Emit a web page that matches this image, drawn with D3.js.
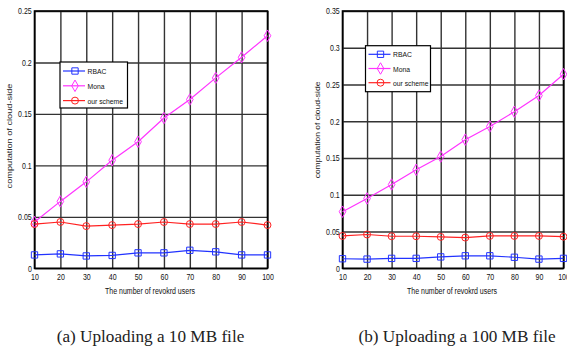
<!DOCTYPE html>
<html>
<head>
<meta charset="utf-8">
<script src="https://cdn.jsdelivr.net/npm/d3@7"></script>
<style>
  body { margin: 0; background: #fff; }
  svg { display: block; }
  .tick text { font-family: "Liberation Sans", Arial, sans-serif; font-size: 9px; fill: #111; }
</style>
</head>
<body>
<svg id="chart" width="567" height="347"></svg>
<script>
// x categories - number of revoked users
const users = [10, 20, 30, 40, 50, 60, 70, 80, 90, 100];

// (a) 10 MB file
const rbacA   = [0.013, 0.014, 0.012, 0.0125, 0.015, 0.015, 0.0175, 0.016, 0.013, 0.013];
const monaA   = [0.045, 0.065, 0.084, 0.105, 0.123, 0.146, 0.164, 0.185, 0.205, 0.226];
const oursA   = [0.043, 0.045, 0.041, 0.042, 0.043, 0.045, 0.043, 0.043, 0.045, 0.042];
const yTicksA = [0, 0.05, 0.1, 0.15, 0.2, 0.25];

// (b) 100 MB file
const rbacB   = [0.013, 0.0125, 0.0135, 0.0135, 0.0155, 0.017, 0.017, 0.015, 0.0125, 0.0135];
const monaB   = [0.077, 0.095, 0.114, 0.134, 0.152, 0.175, 0.193, 0.213, 0.235, 0.264];
const oursB   = [0.044, 0.046, 0.0436, 0.0436, 0.0427, 0.0418, 0.044, 0.044, 0.044, 0.043];
const yTicksB = [0, 0.05, 0.1, 0.15, 0.2, 0.25, 0.3, 0.35];

const seriesNames = ["RBAC", "Mona", "our scheme"];
const captions = ["(a) Uploading a 10 MB file", "(b) Uploading a 100 MB file"];

const colors = { "RBAC": "#2233ff", "Mona": "#ff33ff", "our scheme": "#ff2222" };
const shapes = { "RBAC": d3.symbolSquare, "Mona": d3.symbolDiamond, "our scheme": d3.symbolCircle };
const squeeze = "scale(0.78,1)";  // the source picture is squashed sideways

const svg = d3.select("#chart");

function marker(g, name, x, y) {
  g.append("path")
    .attr("d", d3.symbol().type(shapes[name]).size(name === "RBAC" ? 40 : 38)())
    .attr("transform", `translate(${x},${y})`)
    .attr("fill", "none")
    .attr("stroke", colors[name])
    .attr("stroke-width", 1);
}

function panel(opt) {
  const x = d3.scaleLinear().domain([10, 100]).range([opt.left, opt.right]);
  const y = d3.scaleLinear().domain([0, opt.ymax]).range([268.3, 11]);
  const g = svg.append("g");

  // grid
  g.append("g")
    .attr("transform", `translate(0,${y(0)})`)
    .call(d3.axisBottom(x).tickValues(users).tickSize(-(y(0) - y(opt.ymax))).tickFormat(""))
    .call(a => a.select(".domain").remove())
    .call(a => a.selectAll("line").attr("stroke", "#333").attr("stroke-width", 1.4));
  g.append("g")
    .attr("transform", `translate(${x(10)},0)`)
    .call(d3.axisLeft(y).tickValues(opt.yTicks).tickSize(-(x(100) - x(10))).tickFormat(""))
    .call(a => a.select(".domain").remove())
    .call(a => a.selectAll("line").attr("stroke", "#333").attr("stroke-width", 1.4));

  // frame
  g.append("rect")
    .attr("x", x(10)).attr("y", y(opt.ymax))
    .attr("width", x(100) - x(10)).attr("height", y(0) - y(opt.ymax))
    .attr("fill", "none").attr("stroke", "#000").attr("stroke-width", 1.6);

  // tick labels
  g.append("g")
    .attr("transform", `translate(0,${y(0)})`)
    .call(d3.axisBottom(x).tickValues(users).tickSize(0).tickPadding(5.5))
    .call(a => a.select(".domain").remove())
    .call(a => a.selectAll("text").attr("transform", squeeze));
  g.append("g")
    .attr("transform", `translate(${x(10)},0)`)
    .call(d3.axisLeft(y).tickValues(opt.yTicks).tickSize(0).tickPadding(3.5).tickFormat(d => d3.format("")(+d.toFixed(2))))
    .call(a => a.select(".domain").remove())
    .call(a => a.selectAll("text").attr("transform", squeeze));

  // series
  const line = d3.line().x((d, i) => x(users[i])).y(d => y(d));
  opt.series.forEach(s => {
    g.append("path").datum(s.values)
      .attr("d", line)
      .attr("fill", "none")
      .attr("stroke", colors[s.name])
      .attr("stroke-width", 1.2);
    s.values.forEach((v, i) => marker(g, s.name, x(users[i]), y(v)));
  });

  // axis titles
  g.append("text")
    .attr("transform", `translate(${opt.xtitleX},294) ${squeeze}`)
    .attr("text-anchor", "middle")
    .attr("font-family", "Liberation Sans, Arial, sans-serif")
    .attr("font-size", 9)
    .attr("fill", "#111")
    .text("The number of revokrd users");
  g.append("text")
    .attr("transform", `translate(${opt.ylabelX},${opt.ylabelY}) rotate(-90) scale(1,0.8)`)
    .attr("text-anchor", "middle")
    .attr("font-family", "Liberation Sans, Arial, sans-serif")
    .attr("font-size", opt.ylabelSize)
    .attr("fill", "#222")
    .text("computation of cloud-side");

  // legend
  const L = opt.legend;
  g.append("rect")
    .attr("x", L.x).attr("y", L.y).attr("width", L.w).attr("height", L.h)
    .attr("fill", "#fff").attr("stroke", "#000").attr("stroke-width", 1.2);
  seriesNames.forEach((name, i) => {
    const ly = L.y + L.first + i * L.step;
    g.append("line")
      .attr("x1", L.x + 3).attr("x2", L.x + 25).attr("y1", ly).attr("y2", ly)
      .attr("stroke", colors[name]).attr("stroke-width", 1.2);
    marker(g, name, L.x + 15, ly);
    g.append("text")
      .attr("transform", `translate(${L.x + 27.5},${ly + 3}) scale(0.85,1)`)
      .attr("font-family", "Liberation Sans, Arial, sans-serif")
      .attr("font-size", 8)
      .attr("fill", "#111")
      .text(name);
  });

  // caption
  svg.append("text")
    .attr("x", opt.capX).attr("y", 342)
    .attr("text-anchor", "middle")
    .attr("font-family", "Liberation Serif, Times New Roman, serif")
    .attr("font-size", 17.2)
    .attr("fill", "#222")
    .text(opt.caption);
}

panel({
  left: 34.5, right: 267.5, ymax: 0.25, yTicks: yTicksA,
  ylabelX: 12, ylabelY: 136, ylabelSize: 9.2, xtitleX: 150,
  series: [{ name: "RBAC", values: rbacA }, { name: "Mona", values: monaA }, { name: "our scheme", values: oursA }],
  legend: { x: 60, y: 62, w: 67.5, h: 46, first: 9, step: 14.8 },
  caption: captions[0], capX: 150.5
});
panel({
  left: 342.5, right: 563.5, ymax: 0.35, yTicks: yTicksB,
  ylabelX: 320, ylabelY: 130, ylabelSize: 8.5, xtitleX: 452,
  series: [{ name: "RBAC", values: rbacB }, { name: "Mona", values: monaB }, { name: "our scheme", values: oursB }],
  legend: { x: 365.5, y: 45.7, w: 65, h: 46, first: 8.6, step: 14.2 },
  caption: captions[1], capX: 457
});
</script>
</body>
</html>
